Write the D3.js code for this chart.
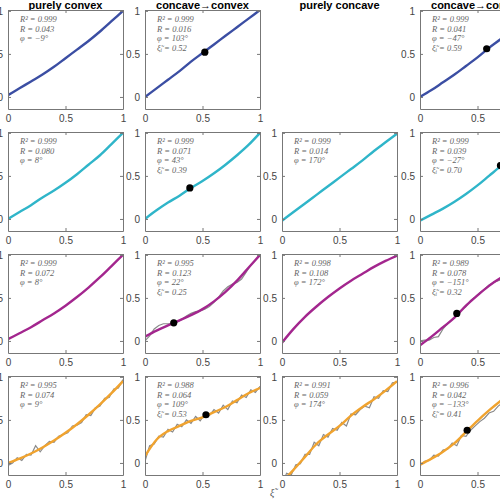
<!DOCTYPE html>
<html>
<head>
<meta charset="utf-8">
<script src="https://cdn.jsdelivr.net/npm/d3@7"></script>
<style>
  body { margin: 0; background: #fff; }
  svg { display: block; }
</style>
</head>
<body>
<div id="chart"></div>
<script>
// column titles
const titles = ["purely convex", "concave\u2192convex", "purely concave", "concave\u2192convex"];
const rowColors = ["#3b4ea3", "#2fb5c9", "#a3268e", "#f0a32f"];

// fit curves, y at x = 0, 0.1, ..., 1  (null = empty panel)
const fitX = [0, 0.1, 0.2, 0.3, 0.4, 0.5, 0.6, 0.7, 0.8, 0.9, 1];
const fits = [
  [[0.02,0.1,0.18,0.26,0.35,0.45,0.55,0.65,0.76,0.88,1.0],
   [0.0,0.1,0.2,0.3,0.41,0.51,0.61,0.71,0.81,0.91,1.01],
   null,
   [0.0,0.08,0.17,0.26,0.36,0.46,0.57,0.67,0.78,0.88,0.98]],
  [[0.0,0.08,0.16,0.25,0.33,0.42,0.52,0.63,0.74,0.87,1.0],
   [0.0,0.1,0.19,0.27,0.36,0.44,0.53,0.63,0.74,0.86,1.0],
   [-0.02,0.08,0.18,0.28,0.38,0.48,0.58,0.68,0.79,0.89,0.99],
   [-0.02,0.05,0.12,0.2,0.29,0.39,0.5,0.61,0.71,0.81,0.9]],
  [[0.02,0.09,0.16,0.24,0.32,0.41,0.51,0.62,0.74,0.87,1.0],
   [0.05,0.12,0.18,0.24,0.3,0.37,0.46,0.57,0.7,0.85,1.0],
   [-0.02,0.14,0.28,0.4,0.51,0.61,0.7,0.78,0.86,0.93,0.99],
   [-0.05,0.05,0.16,0.27,0.41,0.53,0.64,0.73,0.8,0.86,0.9]],
  [[0.0,0.05,0.11,0.18,0.26,0.35,0.45,0.56,0.68,0.81,0.95],
   [0.08,0.27,0.37,0.43,0.49,0.53,0.59,0.65,0.73,0.81,0.87],
   [-0.22,-0.08,0.07,0.22,0.33,0.43,0.55,0.65,0.74,0.84,0.95],
   [-0.02,0.05,0.13,0.23,0.36,0.49,0.61,0.72,0.82,0.9,0.97]]
];

// inflection points [x, y]
const dots = [
  [null, [0.52, 0.52], null, [0.58, 0.56]],
  [null, [0.39, 0.36], null, [0.7, 0.62]],
  [null, [0.25, 0.21], null, [0.32, 0.32]],
  [null, [0.53, 0.56], null, [0.41, 0.38]]
];

// stats text
const stats = [
  [["R\u00b2 = 0.999","R = 0.043","\u03c6 = \u22129\u00b0"],
   ["R\u00b2 = 0.999","R = 0.016","\u03c6 = 103\u00b0","\u03be\u0303\u1d62 = 0.52"],
   null,
   ["R\u00b2 = 0.999","R = 0.041","\u03c6 = \u221247\u00b0","\u03be\u0303\u1d62 = 0.59"]],
  [["R\u00b2 = 0.999","R = 0.080","\u03c6 = 8\u00b0"],
   ["R\u00b2 = 0.999","R = 0.071","\u03c6 = 43\u00b0","\u03be\u0303\u1d62 = 0.39"],
   ["R\u00b2 = 0.999","R = 0.014","\u03c6 = 170\u00b0"],
   ["R\u00b2 = 0.999","R = 0.039","\u03c6 = \u221227\u00b0","\u03be\u0303\u1d62 = 0.70"]],
  [["R\u00b2 = 0.999","R = 0.072","\u03c6 = 8\u00b0"],
   ["R\u00b2 = 0.995","R = 0.123","\u03c6 = 22\u00b0","\u03be\u0303\u1d62 = 0.25"],
   ["R\u00b2 = 0.998","R = 0.108","\u03c6 = 172\u00b0"],
   ["R\u00b2 = 0.989","R = 0.078","\u03c6 = \u2212151\u00b0","\u03be\u0303\u1d62 = 0.32"]],
  [["R\u00b2 = 0.995","R = 0.074","\u03c6 = 9\u00b0"],
   ["R\u00b2 = 0.988","R = 0.064","\u03c6 = 109\u00b0","\u03be\u0303\u1d62 = 0.53"],
   ["R\u00b2 = 0.991","R = 0.059","\u03c6 = 174\u00b0"],
   ["R\u00b2 = 0.996","R = 0.042","\u03c6 = \u2212133\u00b0","\u03be\u0303\u1d62 = 0.41"]]
];

// gray measured data, y at x = 0, 0.04, ..., 1   (key = row,col)
const dataX = d3.range(26).map(i => i * 0.04);
const noisy = {
  "2,1": [0.0,0.06,0.14,0.18,0.2,0.2,0.2,0.22,0.25,0.29,0.32,0.34,0.35,0.37,0.4,0.45,0.51,0.58,0.63,0.66,0.68,0.72,0.8,0.88,0.94,1.0],
  "2,3": [0.0,0.01,0.01,0.04,0.05,0.14,0.2,0.25,0.31,0.36,0.4,0.47,0.51,0.56,0.6,0.65,0.68,0.7,0.72,0.73,0.75,0.78,0.8,0.84,0.86,0.9],
  "3,0": [-0.03,0.0,0.06,0.03,0.1,0.09,0.2,0.13,0.2,0.25,0.24,0.31,0.33,0.35,0.43,0.44,0.47,0.56,0.55,0.64,0.66,0.75,0.76,0.86,0.87,0.97],
  "3,1": [0.02,0.2,0.22,0.31,0.3,0.39,0.36,0.45,0.42,0.5,0.46,0.54,0.49,0.57,0.55,0.62,0.58,0.67,0.62,0.72,0.7,0.79,0.76,0.85,0.82,0.89],
  "3,2": [-0.25,-0.12,-0.14,-0.02,-0.01,0.1,0.1,0.24,0.2,0.33,0.3,0.4,0.38,0.47,0.43,0.57,0.56,0.62,0.66,0.64,0.77,0.75,0.84,0.83,0.93,0.94],
  "3,3": [-0.03,0.02,0.03,0.09,0.08,0.15,0.16,0.23,0.2,0.32,0.31,0.38,0.43,0.48,0.52,0.58,0.6,0.66,0.7,0.74,0.77,0.82,0.83,0.9,0.9,0.97]
};

const W = 500, H = 500;
const colX = [8, 145, 282, 420];
const rowY = [10, 132, 254, 376];
const pw = 115, ph = 99;

const svg = d3.select("#chart").append("svg").attr("width", W).attr("height", H);

// titles
titles.forEach((t, c) => {
  svg.append("text")
    .attr("x", colX[c] + pw / 2).attr("y", 9)
    .attr("text-anchor", "middle")
    .style("font-family", "Liberation Sans, Arial, sans-serif")
    .style("font-weight", "bold").style("font-size", "11px")
    .text(t);
});

for (let r = 0; r < 4; r++) {
  for (let c = 0; c < 4; c++) {
    if (!fits[r][c]) continue;
    const x = d3.scaleLinear().domain([0, 1]).range([colX[c], colX[c] + pw]);
    const y = d3.scaleLinear().domain([-0.14, 1.01]).range([rowY[r] + ph, rowY[r]]);
    const g = svg.append("g");
    const clipId = `clip${r}${c}`;
    g.append("clipPath").attr("id", clipId).append("rect")
      .attr("x", colX[c]).attr("y", rowY[r]).attr("width", pw).attr("height", ph);

    const line = d3.line().x(d => x(d[0])).y(d => y(d[1])).curve(d3.curveMonotoneX);
    const key = r + "," + c;
    if (noisy[key]) {
      g.append("path").attr("clip-path", `url(#${clipId})`)
        .attr("d", d3.line().x(d => x(d[0])).y(d => y(d[1]))(dataX.map((v, i) => [v, noisy[key][i]])))
        .attr("fill", "none").attr("stroke", "#8a8a8a").attr("stroke-width", 1.2);
    }
    g.append("path").attr("clip-path", `url(#${clipId})`)
      .attr("d", line(fitX.map((v, i) => [v, fits[r][c][i]])))
      .attr("fill", "none").attr("stroke", rowColors[r]).attr("stroke-width", 2.4);

    if (dots[r][c]) {
      g.append("circle").attr("cx", x(dots[r][c][0])).attr("cy", y(dots[r][c][1]))
        .attr("r", 3.6).attr("fill", "#000");
    }

    // box + ticks
    const axStyle = sel => {
      sel.select(".domain").attr("stroke", "#777");
      sel.selectAll(".tick line").attr("stroke", "#777");
      sel.selectAll("text").attr("fill", "#444")
        .style("font-family", "Liberation Sans, Arial, sans-serif").style("font-size", "10px");
    };
    const fmt = d => d === 0 ? "0" : d === 1 ? "1" : "0.5";
    g.append("g").attr("transform", `translate(0,${rowY[r] + ph})`)
      .call(d3.axisBottom(x).tickValues([0, 0.5, 1]).tickSize(-3).tickSizeOuter(0).tickPadding(6).tickFormat(fmt)).call(axStyle);
    g.append("g").attr("transform", `translate(${colX[c]},0)`)
      .call(d3.axisLeft(y).tickValues([0, 0.5, 1]).tickSize(-3).tickSizeOuter(0).tickPadding(5).tickFormat(fmt)).call(axStyle);
    g.append("g").attr("transform", `translate(0,${rowY[r]})`)
      .call(d3.axisTop(x).tickValues([0, 0.5, 1]).tickSize(-3).tickSizeOuter(0).tickFormat("")).call(axStyle);
    g.append("g").attr("transform", `translate(${colX[c] + pw},0)`)
      .call(d3.axisRight(y).tickValues([0, 0.5, 1]).tickSize(-3).tickSizeOuter(0).tickFormat("")).call(axStyle);

    stats[r][c].forEach((s, i) => {
      g.append("text").attr("x", colX[c] + 12).attr("y", rowY[r] + 12 + i * 9.5)
        .style("font-family", "Liberation Serif, serif").style("font-style", "italic")
        .style("font-size", "8.5px").attr("fill", "#666").text(s);
    });
  }
}

svg.append("text").attr("x", 270).attr("y", 496)
  .style("font-family", "Liberation Serif, serif").style("font-style", "italic")
  .style("font-size", "10px").attr("fill", "#555").text("\u03be\u0303");
</script>
</body>
</html>
